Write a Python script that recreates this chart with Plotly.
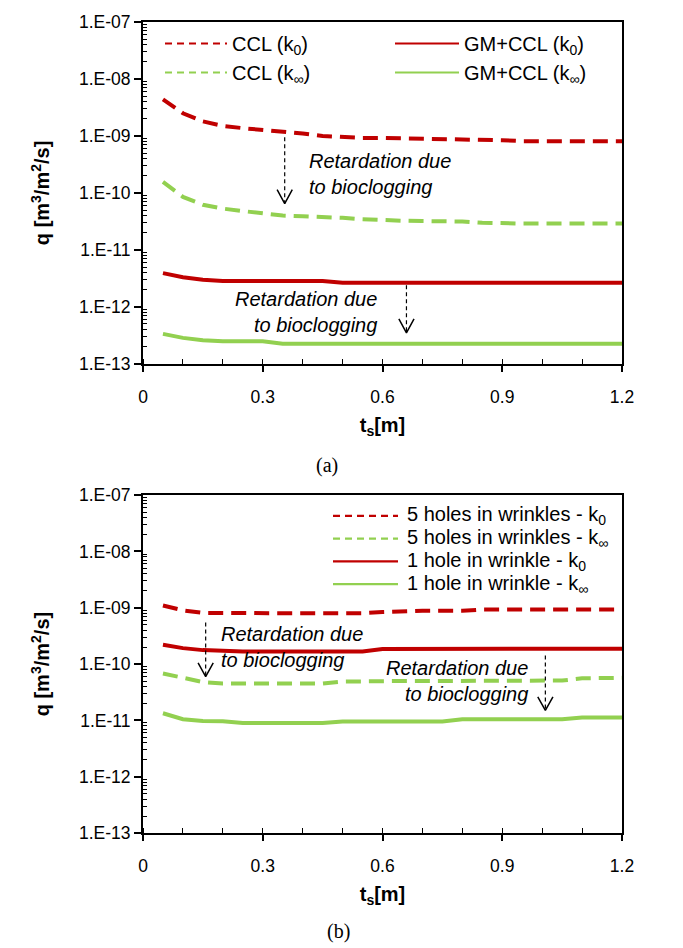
import plotly.graph_objects as go
import math

# ---------------- data ----------------
ts = [0.05, 0.10, 0.15, 0.20, 0.25, 0.30, 0.35, 0.40, 0.45, 0.50, 0.55, 0.60,
      0.65, 0.70, 0.75, 0.80, 0.85, 0.90, 0.95, 1.00, 1.05, 1.10, 1.15, 1.20]

# panel (a)
ccl_k0 = [4.4e-9, 2.5e-9, 1.8e-9, 1.5e-9, 1.37e-9, 1.28e-9, 1.2e-9, 1.1e-9, 1.0e-9, 9.5e-10,
          9.2e-10, 9.2e-10, 9.1e-10, 8.7e-10, 8.6e-10, 8.6e-10, 8.6e-10, 8.4e-10, 8.1e-10,
          8.1e-10, 8.1e-10, 8.1e-10, 8.1e-10, 8.1e-10]
ccl_kinf = [1.56e-10, 8.5e-11, 6.2e-11, 5.3e-11, 4.8e-11, 4.3e-11, 4.0e-11, 3.9e-11, 3.8e-11,
            3.65e-11, 3.45e-11, 3.3e-11, 3.25e-11, 3.2e-11, 3.2e-11, 3.15e-11, 3.0e-11, 2.9e-11,
            2.9e-11, 2.9e-11, 2.9e-11, 2.9e-11, 2.9e-11, 2.9e-11]
gm_k0 = [3.9e-12, 3.3e-12, 3.0e-12, 2.83e-12, 2.83e-12, 2.83e-12, 2.83e-12, 2.83e-12, 2.83e-12,
         2.65e-12, 2.65e-12, 2.65e-12, 2.65e-12, 2.65e-12, 2.65e-12, 2.65e-12, 2.65e-12,
         2.65e-12, 2.65e-12, 2.65e-12, 2.65e-12, 2.65e-12, 2.65e-12, 2.65e-12]
gm_kinf = [3.35e-13, 2.85e-13, 2.6e-13, 2.48e-13, 2.48e-13, 2.48e-13, 2.25e-13, 2.25e-13,
           2.25e-13, 2.25e-13, 2.25e-13, 2.25e-13, 2.25e-13, 2.25e-13, 2.25e-13, 2.25e-13,
           2.25e-13, 2.25e-13, 2.25e-13, 2.25e-13, 2.25e-13, 2.25e-13, 2.25e-13, 2.25e-13]

# panel (b)
five_k0 = [1.1e-9, 9.0e-10, 8.1e-10, 8.0e-10, 8.0e-10, 8.0e-10, 8.0e-10, 8.0e-10, 8.0e-10,
           8.0e-10, 8.0e-10, 8.4e-10, 8.8e-10, 8.85e-10, 8.85e-10, 8.85e-10, 9.3e-10, 9.3e-10,
           9.3e-10, 9.3e-10, 9.3e-10, 9.3e-10, 9.3e-10, 9.3e-10]
five_kinf = [6.8e-11, 5.6e-11, 4.8e-11, 4.5e-11, 4.5e-11, 4.5e-11, 4.5e-11, 4.5e-11, 4.5e-11,
             4.9e-11, 5.0e-11, 5.0e-11, 5.0e-11, 5.0e-11, 5.0e-11, 5.0e-11, 5.0e-11, 5.0e-11,
             5.0e-11, 5.0e-11, 5.1e-11, 5.6e-11, 5.7e-11, 5.7e-11]
one_k0 = [2.2e-10, 1.92e-10, 1.77e-10, 1.71e-10, 1.68e-10, 1.67e-10, 1.67e-10, 1.67e-10,
          1.67e-10, 1.67e-10, 1.67e-10, 1.85e-10, 1.85e-10, 1.85e-10, 1.85e-10, 1.85e-10,
          1.85e-10, 1.85e-10, 1.88e-10, 1.88e-10, 1.88e-10, 1.88e-10, 1.88e-10, 1.88e-10]
one_kinf = [1.34e-11, 1.05e-11, 9.8e-12, 9.7e-12, 9.0e-12, 9.0e-12, 9.0e-12, 9.0e-12, 9.0e-12,
            9.6e-12, 9.6e-12, 9.6e-12, 9.6e-12, 9.6e-12, 9.6e-12, 1.05e-11, 1.05e-11, 1.05e-11,
            1.05e-11, 1.05e-11, 1.05e-11, 1.13e-11, 1.13e-11, 1.13e-11]

ytick_vals = [1e-13, 1e-12, 1e-11, 1e-10, 1e-9, 1e-8, 1e-7]
ytick_text = ["1.E-13", "1.E-12", "1.E-11", "1.E-10", "1.E-09", "1.E-08", "1.E-07"]
xtick_vals = [0, 0.3, 0.6, 0.9, 1.2]
xtick_text = ["0", "0.3", "0.6", "0.9", "1.2"]

names_a = ["CCL (k<sub>0</sub>)", "GM+CCL (k<sub>0</sub>)",
           "CCL (k<sub>∞</sub>)", "GM+CCL (k<sub>∞</sub>)"]
names_b = ["5 holes in wrinkles - k<sub>0</sub>", "5 holes in wrinkles - k<sub>∞</sub>",
           "1 hole in wrinkle - k<sub>0</sub>", "1 hole in wrinkle - k<sub>∞</sub>"]

# arrows: (panel, x, y_start, y_tip)
arrows = [("a", 0.355, 9.5e-10, 6.5e-11),
          ("a", 0.66, 2.38e-12, 3.5e-13),
          ("b", 0.157, 5.5e-10, 6.0e-11),
          ("b", 1.008, 1.42e-10, 1.5e-11)]
# annotation texts: (panel, x, y, anchor)
notes = [("a", 0.41, 2.15e-10, "left"),
         ("a", 0.59, 8.0e-13, "right"),
         ("b", 0.19, 1.98e-10, "left"),
         ("b", 0.97, 5.0e-11, "right")]
note_lines = ["Retardation due", "to bioclogging"]

# ---------------- style ----------------
RED = "#C00000"
GREEN = "#92D050"
FONT = "Liberation Sans, Arial, sans-serif"
SERIF = "Liberation Serif, Times New Roman, serif"
W_LINE = 4
DASH = "15px,8px"
LDASH = "7px,5px"

# pixel geometry of the page
TOP = 12        # top of panel (a)
A_BOT = 358     # bottom of panel (a)
B_TOP = 491     # top of panel (b)
BOT = 833       # bottom of panel (b)
LEFT, RIGHT = 143, 622
PH = BOT - TOP
PW = RIGHT - LEFT

fig = go.Figure()


def add_series(xa, ya, y, color, dash):
    fig.add_trace(go.Scatter(x=ts, y=y, mode="lines", xaxis=xa, yaxis=ya,
                             line=dict(color=color, width=W_LINE, dash=dash),
                             showlegend=False, hoverinfo="skip"))


def add_legend(name, color, dash, legend):
    fig.add_trace(go.Scatter(x=[None], y=[None], mode="lines", name=name,
                             line=dict(color=color, width=2.2, dash=dash),
                             legend=legend, xaxis="x", yaxis="y"))


add_series("x", "y", ccl_k0, RED, DASH)
add_series("x", "y", ccl_kinf, GREEN, DASH)
add_series("x", "y", gm_k0, RED, "solid")
add_series("x", "y", gm_kinf, GREEN, "solid")

add_series("x2", "y2", five_k0, RED, DASH)
add_series("x2", "y2", five_kinf, GREEN, DASH)
add_series("x2", "y2", one_k0, RED, "solid")
add_series("x2", "y2", one_kinf, GREEN, "solid")

# legend (a): two columns = two legends
add_legend(names_a[0], RED, LDASH, "legend")
add_legend(names_a[2], GREEN, LDASH, "legend")
add_legend(names_a[1], RED, "solid", "legend3")
add_legend(names_a[3], GREEN, "solid", "legend3")

# arrows (dashed shaft + open head)
for p, x, y0, y1 in arrows:
    xa, ya = ("x", "y") if p == "a" else ("x2", "y2")
    fig.add_trace(go.Scatter(x=[x, x], y=[y0, y1], mode="lines", xaxis=xa, yaxis=ya,
                             line=dict(color="black", width=1.2, dash="4px,3px"),
                             showlegend=False, hoverinfo="skip"))
    f = 10 ** (14 / 57.5)
    fig.add_trace(go.Scatter(x=[x - 0.019, x, x + 0.019], y=[y1 * f, y1, y1 * f],
                             mode="lines", xaxis=xa, yaxis=ya,
                             line=dict(color="black", width=1.5),
                             showlegend=False, hoverinfo="skip"))

for p, x, y, anc in notes:
    xr, yr = ("x", "y") if p == "a" else ("x2", "y2")
    txt = "<br>".join("<i>" + s + "</i>" for s in note_lines)
    fig.add_annotation(x=x, y=math.log10(y), xref=xr, yref=yr, text=txt,
                       showarrow=False, xanchor=anc, align=anc, yanchor="middle",
                       font=dict(family=FONT, size=20, color="black"))

TOP_DOM = [(BOT - A_BOT) / PH, 1.0]
BOT_DOM = [0.0, (BOT - B_TOP) / PH]


def xaxis_cfg(anchor):
    return dict(range=[0, 1.2], anchor=anchor, domain=[0, 1],
                tickvals=xtick_vals, ticktext=xtick_text,
                ticks="outside", ticklen=6, tickwidth=1.5, tickcolor="black",
                showline=True, linecolor="black", linewidth=2, mirror=True,
                showgrid=False, zeroline=False,
                minor=dict(ticks="inside", dtick=0.1, tick0=0, ticklen=5,
                           tickwidth=1.2, tickcolor="black", showgrid=False),
                tickfont=dict(family=FONT, size=17.5, color="black"),
                ticklabelstandoff=10,
                title=dict(text="<b>t<sub>s</sub>[m]</b>", standoff=12,
                           font=dict(family=FONT, size=20, color="black")))


minor_vals = [k * 10 ** e for e in range(-13, -7) for k in range(2, 10)]


def yaxis_cfg(anchor, dom):
    return dict(type="log", range=[-13, -7], anchor=anchor, domain=dom,
                tickvals=ytick_vals, ticktext=ytick_text,
                ticks="outside", ticklen=7, tickwidth=1.5, tickcolor="black",
                showline=True, linecolor="black", linewidth=2, mirror=True,
                showgrid=False, zeroline=False,
                minor=dict(ticks="inside", tickvals=minor_vals, ticklen=4,
                           tickwidth=1.2, tickcolor="black", showgrid=False),
                tickfont=dict(family=FONT, size=17.5, color="black"),
                ticklabelstandoff=0,
                title=dict(text="<b>q [m<sup>3</sup>/m<sup>2</sup>/s]</b>", standoff=24,
                           font=dict(family=FONT, size=20, color="black")))


def px_x(px):
    return (px - LEFT) / PW


def px_y(py):
    return (BOT - py) / PH


fig.update_layout(
    width=683, height=948,
    margin=dict(l=LEFT, r=683 - RIGHT, t=TOP, b=948 - BOT),
    paper_bgcolor="white", plot_bgcolor="white",
    showlegend=True,
    xaxis=xaxis_cfg("y"),
    yaxis=yaxis_cfg("x", TOP_DOM),
    xaxis2=xaxis_cfg("y2"),
    yaxis2=yaxis_cfg("x2", BOT_DOM),
    legend=dict(orientation="v", x=px_x(160), y=px_y(14), xanchor="left", yanchor="top",
                itemwidth=62, bgcolor="rgba(0,0,0,0)", tracegroupgap=0,
                font=dict(family=FONT, size=20, color="black")),
    legend3=dict(orientation="v", x=px_x(390), y=px_y(14), xanchor="left", yanchor="top",
                 itemwidth=64, bgcolor="rgba(0,0,0,0)", tracegroupgap=0,
                 font=dict(family=FONT, size=20, color="black")),
)

# legend (b), drawn as line samples + text so that its row spacing matches
leg_b_rows = [512, 535, 558, 581]
leg_b_colors = [RED, GREEN, RED, GREEN]
leg_b_dash = [LDASH, LDASH, "solid", "solid"]
for name, row, col, dsh in zip(names_b, leg_b_rows, leg_b_colors, leg_b_dash):
    fig.add_shape(type="line", xref="paper", yref="paper",
                  x0=px_x(333), x1=px_x(398), y0=px_y(row), y1=px_y(row),
                  line=dict(color=col, width=2.2, dash=dsh))
    fig.add_annotation(x=px_x(405), y=px_y(row), xref="paper", yref="paper",
                       text=name, showarrow=False, xanchor="left", yanchor="middle",
                       font=dict(family=FONT, size=20, color="black"))

# panel labels
fig.add_annotation(x=px_x(327), y=px_y(461), xref="paper", yref="paper",
                   text="(a)", showarrow=False, xanchor="center", yanchor="middle",
                   font=dict(family=SERIF, size=20, color="black"))
fig.add_annotation(x=px_x(338), y=px_y(933), xref="paper", yref="paper",
                   text="(b)", showarrow=False, xanchor="center", yanchor="middle",
                   font=dict(family=SERIF, size=20, color="black"))

fig.write_html("out.html")
